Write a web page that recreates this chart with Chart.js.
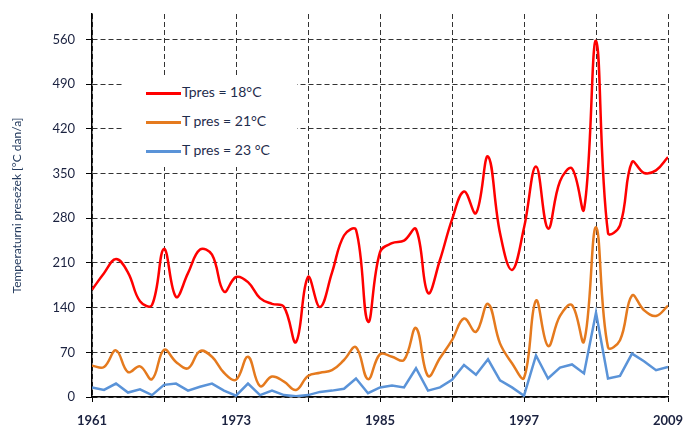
<!DOCTYPE html>
<html>
<head>
<meta charset="utf-8">
<script src="https://cdn.jsdelivr.net/npm/chart.js@4"></script>
<style>
    html, body { margin: 0; padding: 0; background: #fff; }
    #wrap { position: relative; width: 685px; height: 428px; }
    #legenda {
        position: absolute; left: 123px; top: 75px; width: 174px; height: 92px;
        background: #fff; font-family: Lato, "Open Sans", sans-serif; font-size: 14px; color: #1f2d4d;
    }
    .item { position: absolute; left: 23px; height: 16px; line-height: 16px; white-space: nowrap; }
    .item span.linha { display: inline-block; width: 35px; height: 3px; vertical-align: middle; margin-right: 1px; }
</style>
</head>
<body>
<div id="wrap">
    <canvas id="grafico" width="685" height="428"></canvas>
    <div id="legenda"></div>
</div>
<script>
// anos 1961 - 2009
const anos = [];
for (let a = 1961; a <= 2009; a++) anos.push(a);

const tpres18 = [168, 194, 216, 195, 150, 144, 232, 157, 194, 231, 223, 165, 188,
    180, 155, 146, 141, 86, 188, 141, 195, 253, 262, 118, 227,
    241, 245, 263, 163, 215, 278, 322, 288, 377, 257, 199, 265,
    361, 264, 338, 358, 294, 558, 257, 269, 368, 351, 355, 376];

const tpres21 = [49, 47, 73, 39, 48, 28, 74, 55, 45, 72, 63, 38, 27,
    63, 17, 32, 24, 11, 33, 38, 42, 58, 78, 28, 67,
    63, 58, 108, 33, 61, 89, 123, 102, 146, 84, 53, 30,
    151, 80, 127, 144, 87, 266, 78, 89, 159, 136, 127, 143];

const tpres23 = [15, 11, 21, 7, 12, 3, 19, 21, 10, 16, 21, 10, 2,
    21, 3, 10, 3, 1, 3, 8, 10, 13, 29, 6, 15,
    18, 15, 45, 10, 15, 27, 50, 35, 59, 26, 15, 2,
    65, 29, 46, 51, 37, 132, 29, 33, 68, 56, 42, 47];

const rotulos = ['Tpres = 18°C', 'T pres = 21°C', 'T pres = 23 °C'];
const cores = ['#ff0000', '#e57a1e', '#5a93d8'];
const ticksY = [0, 70, 140, 210, 280, 350, 420, 490, 560];

const fonte = "Lato, 'Open Sans', sans-serif";

function serie(valores) {
    return valores.map((v, i) => ({ x: anos[i], y: v }));
}

const data = {
    datasets: [
        { label: rotulos[0], data: serie(tpres18), borderColor: cores[0], borderWidth: 2.5, tension: 0.4, pointRadius: 0 },
        { label: rotulos[1], data: serie(tpres21), borderColor: cores[1], borderWidth: 2.5, tension: 0.4, pointRadius: 0 },
        { label: rotulos[2], data: serie(tpres23), borderColor: cores[2], borderWidth: 2.5, tension: 0, pointRadius: 0 }
    ]
};

const options = {
    responsive: false,
    animation: false,
    layout: { padding: { top: 14, right: 17, left: 0, bottom: 0 } },
    plugins: {
        legend: { display: false },
        tooltip: { enabled: false }
    },
    scales: {
        x: {
            type: 'linear',
            min: 1961,
            max: 2009,
            afterFit: (scale) => {
                scale.height = 31;
                scale.paddingLeft = 0;
                scale.paddingRight = 0;
            },
            ticks: {
                stepSize: 6,
                autoSkip: false,
                maxRotation: 0,
                color: '#1b2240',
                padding: 11,
                font: { family: fonte, size: 13, weight: 'bold' },
                callback: (v) => ((v - 1961) % 12 === 0 ? String(v) : '')
            },
            grid: {
                color: '#333',
                lineWidth: 1,
                tickLength: 5,
                tickColor: '#000',
                tickBorderDash: []
            },
            border: { display: true, color: '#000', width: 1.5, dash: [5, 3] }
        },
        y: {
            min: 0,
            max: 600,
            afterFit: (scale) => {
                scale.width = 92;
                scale.paddingTop = 0;
                scale.paddingBottom = 0;
            },
            afterBuildTicks: (scale) => { scale.ticks = ticksY.map((v) => ({ value: v })); },
            ticks: {
                color: '#1b2240',
                padding: 11,
                font: { family: fonte, size: 13 }
            },
            title: {
                display: true,
                text: 'Temperaturni presežek [°C dan/a]',
                color: '#243b5e',
                padding: { top: 10, bottom: 0 },
                font: { family: fonte, size: 12 }
            },
            grid: {
                color: '#333',
                lineWidth: 1,
                tickLength: 6,
                tickColor: '#000',
                tickBorderDash: []
            },
            border: { display: true, color: '#000', width: 1.5, dash: [5, 3] }
        }
    }
};

new Chart(document.getElementById('grafico'), {
    type: 'line',
    data: data,
    options: options
});

const leg = document.getElementById('legenda');
rotulos.forEach((r, i) => {
    const d = document.createElement('div');
    d.className = 'item';
    d.style.top = (9 + i * 29) + 'px';
    d.innerHTML = `<span class="linha" style="background:${cores[i]}"></span>${r}`;
    leg.appendChild(d);
});
</script>
</body>
</html>
